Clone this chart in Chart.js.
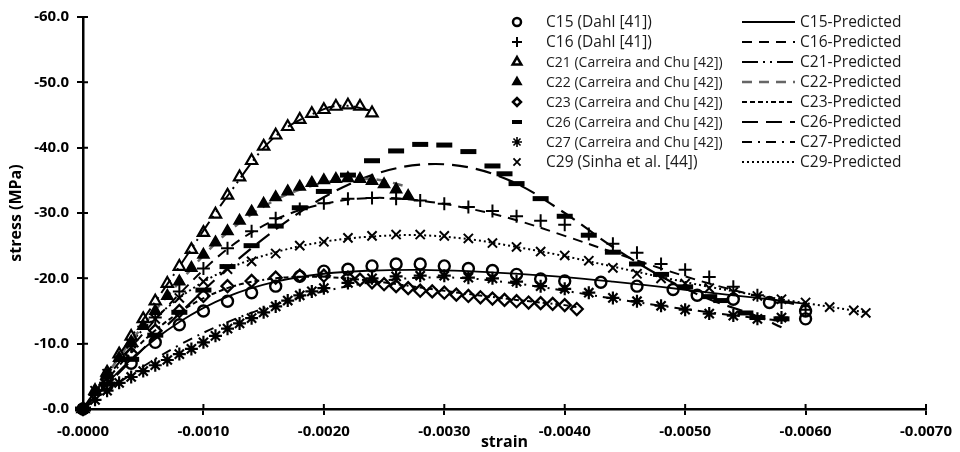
<!DOCTYPE html>
<html>
<head>
<meta charset="utf-8">
<script src="https://cdn.jsdelivr.net/npm/chart.js@4"></script>
<style>
  html, body { margin: 0; padding: 0; background: #fff; }
  #wrap { width: 960px; height: 452px; }
</style>
</head>
<body>
<div id="wrap"><canvas id="chart"></canvas></div>
<script>
// experimental points (strain, stress in MPa)
const c15Strain = [0, -0.0002, -0.0004, -0.0006, -0.0008, -0.0010, -0.0012, -0.0014, -0.0016, -0.0018, -0.0020, -0.0022, -0.0024, -0.0026, -0.0028, -0.0030, -0.0032, -0.0034, -0.0036, -0.0038, -0.0040, -0.0043, -0.0046, -0.0049, -0.0051, -0.0054, -0.0057, -0.0060, -0.0060];
const c15Stress = [0, -3.6, -7.0, -10.2, -12.9, -15.0, -16.5, -17.8, -18.8, -20.3, -21.1, -21.4, -21.9, -22.2, -22.2, -21.9, -21.5, -21.2, -20.6, -19.9, -19.6, -19.4, -18.8, -18.3, -17.4, -16.8, -16.3, -15.0, -13.8];

const c16Strain = [0, -0.0002, -0.0004, -0.0006, -0.0008, -0.0010, -0.0012, -0.0014, -0.0016, -0.0018, -0.0020, -0.0022, -0.0024, -0.0026, -0.0028, -0.0030, -0.0032, -0.0034, -0.0036, -0.0038, -0.0040, -0.0042, -0.0044, -0.0046, -0.0048, -0.0050, -0.0052, -0.0054, -0.0056, -0.0058, -0.0060];
const c16Stress = [0, -4.9, -9.6, -14.0, -18.0, -21.5, -24.6, -27.2, -29.2, -30.6, -31.5, -32.2, -32.3, -32.2, -31.9, -31.4, -30.9, -30.3, -29.5, -28.8, -28.2, -26.8, -25.3, -23.9, -22.2, -21.3, -20.2, -18.7, -17.4, -16.3, -15.2];

const c21Strain = [0, -0.0001, -0.0002, -0.0003, -0.0004, -0.0005, -0.0006, -0.0007, -0.0008, -0.0009, -0.0010, -0.0011, -0.0012, -0.0013, -0.0014, -0.0015, -0.0016, -0.0017, -0.0018, -0.0019, -0.0020, -0.0021, -0.0022, -0.0023, -0.0024];
const c21Stress = [0, -2.8, -5.6, -8.4, -11.1, -13.8, -16.5, -19.2, -21.8, -24.4, -27.0, -29.8, -32.7, -35.5, -38.0, -40.2, -41.9, -43.2, -44.3, -45.2, -45.8, -46.3, -46.5, -46.3, -45.3];

const c22Strain = [0, -0.0001, -0.0002, -0.0003, -0.0004, -0.0005, -0.0006, -0.0007, -0.0008, -0.0009, -0.0010, -0.0011, -0.0012, -0.0013, -0.0014, -0.0015, -0.0016, -0.0017, -0.0018, -0.0019, -0.0020, -0.0021, -0.0022, -0.0023, -0.0024, -0.0025, -0.0026, -0.0027];
const c22Stress = [0, -2.6, -5.2, -7.8, -10.3, -12.7, -15.0, -17.3, -19.5, -21.6, -23.6, -25.5, -27.2, -28.8, -30.2, -31.4, -32.4, -33.3, -34.0, -34.6, -35.0, -35.2, -35.3, -35.2, -34.9, -34.4, -33.6, -32.6];

const c23Strain = [0, -0.0002, -0.0004, -0.0006, -0.0008, -0.0010, -0.0012, -0.0014, -0.0016, -0.0018, -0.0020, -0.0022, -0.0023, -0.0024, -0.0025, -0.0026, -0.0027, -0.0028, -0.0029, -0.0030, -0.0031, -0.0032, -0.0033, -0.0034, -0.0035, -0.0036, -0.0037, -0.0038, -0.0039, -0.0040, -0.0041];
const c23Stress = [0, -4.5, -8.5, -12.0, -15.0, -17.3, -18.8, -19.6, -20.1, -20.4, -20.4, -20.1, -19.8, -19.4, -19.1, -18.8, -18.5, -18.1, -18.0, -17.8, -17.5, -17.3, -17.1, -16.9, -16.7, -16.5, -16.3, -16.2, -16.1, -15.9, -15.3];

const c26Strain = [0, -0.0002, -0.0004, -0.0006, -0.0008, -0.0010, -0.0012, -0.0014, -0.0016, -0.0018, -0.0020, -0.0022, -0.0024, -0.0026, -0.0028, -0.0030, -0.0032, -0.0034, -0.0035, -0.0036, -0.0038, -0.0040, -0.0042, -0.0044, -0.0046, -0.0048, -0.0050, -0.0052, -0.0053, -0.0055, -0.0056, -0.0058];
const c26Stress = [0, -3.8, -7.6, -11.3, -14.8, -18.2, -21.8, -25.0, -28.0, -30.8, -33.3, -35.8, -38.0, -39.5, -40.5, -40.4, -39.4, -37.2, -36.0, -34.5, -32.2, -29.5, -26.6, -24.0, -22.2, -20.6, -18.7, -17.2, -16.6, -14.7, -14.0, -13.8];

const c27Strain = [0, -0.0001, -0.0002, -0.0003, -0.0004, -0.0005, -0.0006, -0.0007, -0.0008, -0.0009, -0.0010, -0.0011, -0.0012, -0.0013, -0.0014, -0.0015, -0.0016, -0.0017, -0.0018, -0.0019, -0.0020, -0.0022, -0.0024, -0.0026, -0.0028, -0.0030, -0.0032, -0.0034, -0.0036, -0.0038, -0.0040, -0.0042, -0.0044, -0.0046, -0.0048, -0.0050, -0.0052, -0.0054, -0.0056, -0.0058];
const c27Stress = [0, -1.4, -2.8, -4.0, -4.9, -5.8, -6.7, -7.5, -8.4, -9.2, -10.2, -11.2, -12.3, -13.1, -13.9, -14.8, -15.7, -16.6, -17.4, -18.0, -18.5, -19.3, -20.0, -20.3, -20.4, -20.4, -20.1, -20.0, -19.5, -18.8, -18.4, -17.8, -17.0, -16.5, -15.8, -15.2, -14.6, -14.3, -13.8, -14.0];

const c29Strain = [0, -0.0001, -0.0002, -0.0004, -0.0006, -0.0008, -0.0010, -0.0012, -0.0014, -0.0016, -0.0018, -0.0020, -0.0022, -0.0024, -0.0026, -0.0028, -0.0030, -0.0032, -0.0034, -0.0036, -0.0038, -0.0040, -0.0042, -0.0044, -0.0046, -0.0048, -0.0050, -0.0052, -0.0054, -0.0056, -0.0058, -0.0060, -0.0062, -0.0064, -0.0065];
const c29Stress = [0, -2.8, -5.4, -10.0, -13.8, -17.0, -19.5, -21.4, -22.6, -23.8, -25.0, -25.6, -26.2, -26.5, -26.7, -26.7, -26.5, -26.1, -25.4, -24.8, -24.1, -23.5, -22.7, -21.6, -20.7, -20.0, -19.2, -18.5, -17.9, -17.3, -16.8, -16.3, -15.6, -15.1, -14.7];

// predicted curves
const predStrain60 = [0, -0.0004, -0.0008, -0.0012, -0.0016, -0.0020, -0.0024, -0.0028, -0.0032, -0.0036, -0.0040, -0.0044, -0.0048, -0.0052, -0.0056, -0.0060];
const predStrain58 = [0, -0.0004, -0.0008, -0.0012, -0.0016, -0.0020, -0.0024, -0.0028, -0.0032, -0.0036, -0.0040, -0.0044, -0.0048, -0.0052, -0.0056, -0.0058];
const predStrain65 = [0, -0.0004, -0.0008, -0.0012, -0.0016, -0.0020, -0.0024, -0.0028, -0.0032, -0.0036, -0.0040, -0.0044, -0.0048, -0.0052, -0.0056, -0.0060, -0.0065];
const c21PredStrain = [0, -0.0004, -0.0008, -0.0012, -0.0016, -0.0020, -0.0022, -0.0024];
const c22PredStrain = [0, -0.0004, -0.0008, -0.0012, -0.0016, -0.0020, -0.0024, -0.0027];
const c23PredStrain = [0, -0.0004, -0.0008, -0.0012, -0.0016, -0.0020, -0.0024, -0.0028, -0.0032, -0.0036, -0.0040, -0.0041];

const c15PredStress = [0, -7.6, -13.3, -17.2, -19.5, -20.7, -21.2, -21.3, -21.1, -20.7, -20.2, -19.5, -18.7, -17.8, -17.0, -16.1];
const c16PredStress = [0, -9.4, -17.6, -24.5, -29.0, -31.4, -32.3, -31.9, -30.7, -28.9, -26.5, -24.0, -21.5, -19.2, -17.3, -15.7];
const c21PredStress = [0, -11.0, -21.8, -32.6, -41.8, -45.9, -46.4, -45.6];
const c22PredStress = [0, -10.4, -19.4, -27.0, -32.0, -34.6, -35.2, -34.0];
const c23PredStress = [0, -8.6, -14.8, -18.5, -20.0, -20.2, -19.6, -18.6, -17.6, -16.7, -15.9, -15.6];
const c26PredStress = [0, -7.4, -14.6, -21.5, -27.5, -32.4, -35.8, -37.4, -37.0, -34.5, -30.0, -24.8, -20.3, -16.8, -14.2, -12.5];
const c27PredStress = [0, -5.3, -9.8, -13.3, -16.0, -18.0, -19.4, -20.1, -20.0, -19.2, -18.1, -16.9, -15.8, -14.8, -13.9, -13.5];
const c29PredStress = [0, -10.2, -17.0, -21.4, -24.0, -25.6, -26.4, -26.6, -26.0, -24.8, -23.4, -21.8, -20.2, -18.7, -17.4, -16.2, -14.8];

const xTickStep = 0.001;
const yTickStep = 10;

const pts = (xs, ys) => xs.map((x, i) => ({ x: x, y: ys[i] }));

Chart.defaults.font.family = "'Open Sans', sans-serif";
Chart.defaults.color = '#000';

function marker(label, xs, ys, style, radius, bw, fill, lf) {
    return {
        label: label,
        data: pts(xs, ys),
        showLine: false,
        pointStyle: style,
        pointRadius: radius,
        pointBorderWidth: bw,
        pointBorderColor: '#000',
        pointBackgroundColor: fill ? '#000' : 'rgba(0,0,0,0)',
        legendRadius: lf[0],
        legendBw: lf[1],
        legendFont: lf[2],
        clip: false
    };
}

function predicted(label, xs, ys, dash, color, width) {
    return {
        label: label,
        data: pts(xs, ys),
        showLine: true,
        borderColor: color,
        borderWidth: width,
        borderDash: dash,
        pointRadius: 0,
        tension: 0.35,
        fill: false,
        clip: false
    };
}

const datasets = [
    marker('C15 (Dahl [41])', c15Strain, c15Stress, 'circle', 5.5, 2.4, false, [4, 2.5, 15.5]),
    marker('C16 (Dahl [41])', c16Strain, c16Stress, 'cross', 6.5, 2, false, [5, 2, 15.5]),
    marker('C21 (Carreira and Chu [42])', c21Strain, c21Stress, 'triangle', 6.5, 2.2, false, [5, 2.5, 14]),
    marker('C22 (Carreira and Chu [42])', c22Strain, c22Stress, 'triangle', 6.5, 1.5, true, [5, 1.5, 14]),
    marker('C23 (Carreira and Chu [42])', c23Strain, c23Stress, 'rectRot', 6, 2.3, false, [4, 2.5, 14]),
    marker('C26 (Carreira and Chu [42])', c26Strain, c26Stress, 'line', 8, 5, false, [5, 4, 14]),
    marker('C27 (Carreira and Chu [42])', c27Strain, c27Stress, 'star', 6.5, 2.2, false, [5, 1.6, 14]),
    marker('C29 (Sinha et al. [44])', c29Strain, c29Stress, 'crossRot', 6.5, 2, false, [5, 1.8, 15.5]),
    predicted('C15-Predicted', predStrain60, c15PredStress, [], '#000', 1.8),
    predicted('C16-Predicted', predStrain60, c16PredStress, [10, 7], '#000', 2),
    predicted('C21-Predicted', c21PredStrain, c21PredStress, [16, 5, 2, 5, 2, 5], '#000', 2),
    predicted('C22-Predicted', c22PredStrain, c22PredStress, [10, 7], '#666', 2.5),
    predicted('C23-Predicted', c23PredStrain, c23PredStress, [5, 3, 5, 3, 5, 3, 2, 3], '#000', 2),
    predicted('C26-Predicted', predStrain58, c26PredStress, [16, 8], '#000', 2.2),
    predicted('C27-Predicted', predStrain58, c27PredStress, [10, 6, 2, 6], '#000', 2),
    predicted('C29-Predicted', predStrain65, c29PredStress, [2, 3], '#000', 2)
];

// two-column legend inside the plot, top right
const insideLegend = {
    id: 'insideLegend',
    afterDraw(chart) {
        const ctx = chart.ctx;
        const a = chart.chartArea;
        const sets = chart.data.datasets;
        const markX = a.left + 434, textX = a.left + 463;
        const lineX0 = a.left + 659, lineX1 = a.left + 712, text2X = a.left + 717;
        const rowY = a.top + 5, rowH = 20;
        ctx.save();
        ctx.textBaseline = 'middle';
        ctx.textAlign = 'left';
        for (let i = 0; i < 8; i++) {
            const d = sets[i];
            const y = rowY + i * rowH;
            ctx.strokeStyle = '#000';
            ctx.fillStyle = d.pointBackgroundColor === '#000' ? '#000' : '#fff';
            ctx.lineWidth = d.legendBw;
            Chart.helpers.drawPoint(ctx, { pointStyle: d.pointStyle, radius: d.legendRadius, borderWidth: d.legendBw, rotation: 0 }, markX, y);
            ctx.fillStyle = '#1a1a1a';
            ctx.font = d.legendFont + "px 'Open Sans', sans-serif";
            ctx.fillText(d.label, textX, y + 1);

            const p = sets[8 + i];
            ctx.beginPath();
            ctx.setLineDash(p.borderDash);
            ctx.strokeStyle = p.borderColor;
            ctx.lineWidth = p.borderWidth;
            ctx.moveTo(lineX0, y);
            ctx.lineTo(lineX1, y);
            ctx.stroke();
            ctx.setLineDash([]);
            ctx.font = "15.5px 'Open Sans', sans-serif";
            ctx.fillText(p.label, text2X, y + 1);
        }
        ctx.restore();
    }
};

// tick marks that also cross into the plot
const innerTicks = {
    id: 'innerTicks',
    afterDraw(chart) {
        const { ctx, chartArea: a, scales } = chart;
        ctx.save();
        ctx.strokeStyle = '#000';
        ctx.lineWidth = 2;
        ctx.beginPath();
        scales.x.ticks.forEach((t, i) => {
            const px = scales.x.getPixelForTick(i);
            ctx.moveTo(px, a.bottom);
            ctx.lineTo(px, a.bottom - 5);
        });
        scales.y.ticks.forEach((t, i) => {
            const py = scales.y.getPixelForTick(i);
            ctx.moveTo(a.left, py);
            ctx.lineTo(a.left + 5, py);
        });
        ctx.stroke();
        ctx.restore();
    }
};

new Chart(document.getElementById('chart'), {
    type: 'scatter',
    data: { datasets: datasets },
    options: {
        responsive: true,
        maintainAspectRatio: false,
        animation: false,
        layout: { padding: { left: 7, right: 33, top: 14, bottom: 0 } },
        plugins: {
            legend: { display: false },
            tooltip: { enabled: false }
        },
        scales: {
            x: {
                type: 'linear',
                min: -0.007,
                max: 0,
                reverse: true,
                border: { display: true, color: '#000', width: 2.5 },
                grid: { drawOnChartArea: false, drawTicks: true, tickLength: 6, color: '#000', lineWidth: 2 },
                ticks: {
                    stepSize: xTickStep,
                    padding: 8,
                    maxRotation: 0,
                    autoSkip: false,
                    color: '#000',
                    font: { size: 15, weight: 'bold' },
                    callback: v => '-' + Math.abs(v).toFixed(4)
                },
                title: { display: true, text: 'strain', color: '#000', font: { size: 16, weight: 'bold' }, padding: 0 },
                afterFit: s => { s.height = 43; }
            },
            y: {
                type: 'linear',
                min: -60,
                max: 0,
                reverse: true,
                border: { display: true, color: '#000', width: 2.5 },
                grid: { drawOnChartArea: false, drawTicks: true, tickLength: 6, color: '#000', lineWidth: 2 },
                ticks: {
                    stepSize: yTickStep,
                    padding: 8,
                    color: '#000',
                    font: { size: 15, weight: 'bold' },
                    callback: v => '-' + Math.abs(v).toFixed(1)
                },
                title: { display: true, text: 'stress (MPa)', color: '#000', font: { size: 16, weight: 'bold' }, padding: 0 },
                afterFit: s => { s.width = 76; }
            }
        }
    },
    plugins: [innerTicks, insideLegend]
});
</script>
</body>
</html>
